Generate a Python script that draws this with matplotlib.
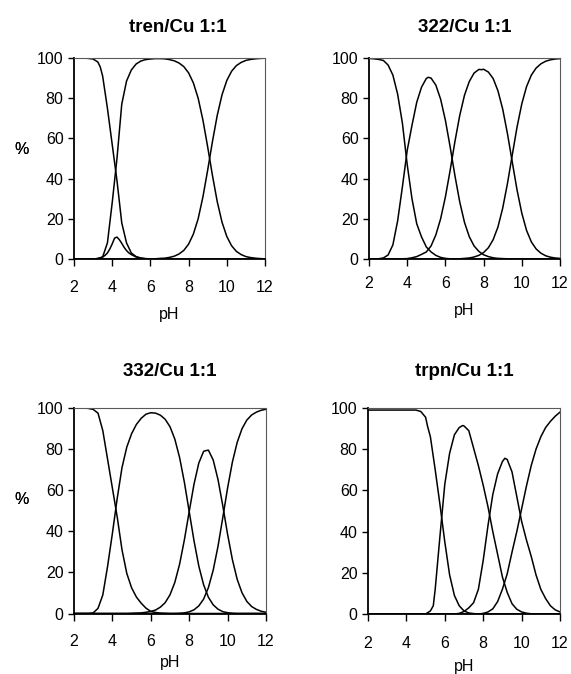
import matplotlib
matplotlib.use('agg')
import matplotlib.pyplot as plt

# species distribution curves (% of Cu)
ph = [2.0, 2.25, 2.5, 2.75, 3.0, 3.25, 3.5, 3.75, 4.0, 4.25, 4.5, 4.75, 5.0, 5.25,
      5.5, 5.75, 6.0, 6.25, 6.5, 6.75, 7.0, 7.25, 7.5, 7.75, 8.0, 8.25, 8.5, 8.75,
      9.0, 9.25, 9.5, 9.75, 10.0, 10.25, 10.5, 10.75, 11.0, 11.25, 11.5, 11.75, 12.0]

# tren/Cu 1:1
tren_a = [100, 100, 100, 99.8, 99.5, 98, 91, 75, 57, 39, 18, 8, 3, 1.2, 0.5, 0.2, 0.1,
          0, 0, 0, 0, 0, 0, 0, 0, 0, 0, 0, 0, 0, 0, 0, 0, 0, 0, 0, 0, 0, 0, 0, 0]
tren_b = [0, 0, 0, 0, 0, 0.2, 1, 8, 28, 50, 77, 88.5, 94, 97, 98.5, 99.2, 99.5, 99.7,
          99.7, 99.6, 99.2, 98.6, 97.5, 95.7, 92.6, 87.6, 80.0, 69.1, 55.7, 41.5, 28.5,
          18.3, 11.2, 6.6, 3.8, 2.2, 1.2, 0.7, 0.4, 0.2, 0.1]
tren_d = [0, 0, 0, 0, 0, 0, 0, 0, 0, 0, 0, 0, 0, 0, 0, 0, 0.1, 0.1, 0.3, 0.4, 0.8, 1.4,
          2.5, 4.3, 7.4, 12.4, 20.0, 30.9, 44.3, 58.5, 71.5, 81.7, 88.8, 93.4, 96.2,
          97.8, 98.8, 99.3, 99.6, 99.8, 99.9]
# small intermediate species, read on a finer grid
ph_bump = [3.0, 3.125, 3.25, 3.375, 3.5, 3.625, 3.75, 3.875, 4.0, 4.125, 4.25, 4.375,
           4.5, 4.625, 4.75, 4.875, 5.0, 5.25, 5.5, 5.75, 6.0]
tren_c = [0, 0.1, 0.3, 0.6, 1.0, 1.8, 3.0, 5.0, 7.5, 10.4, 10.9, 9.6, 7.8, 5.8, 4.2,
          3.0, 2.2, 1.0, 0.4, 0.1, 0]

# 322/Cu 1:1
p322_a = [99.8, 99.6, 99.3, 98.8, 96.5, 91.5, 82, 67.5, 47, 30, 17.5, 11, 6, 3.5, 1.8,
          0.8, 0.3, 0.1, 0, 0, 0, 0, 0, 0, 0, 0, 0, 0, 0, 0, 0, 0, 0, 0, 0, 0, 0, 0, 0,
          0, 0]
p322_b = [0, 0, 0.1, 0.5, 2, 7, 19, 36, 54, 66.5, 78, 85.5, 89.8, 90.0, 86.5, 79.5, 69,
          55.7, 41.4, 28.4, 18.2, 11.1, 6.5, 3.8, 2.1, 1.2, 0.6, 0.3, 0.2, 0.1,
          0, 0, 0, 0, 0, 0, 0, 0, 0, 0, 0]
p322_c = [0, 0, 0, 0, 0, 0, 0, 0.1, 0.2, 0.6, 1.2, 2.3, 3.5, 6.5, 12, 20, 30.9, 44.2,
          58.5, 71.4, 81.5, 88.3, 92.5, 94.3, 94.4, 93.0, 89.8, 83.7, 74.6, 62.3, 48.3,
          34.4, 22.8, 14.2, 8.5, 5.0, 2.9, 1.6, 0.9, 0.5, 0.3]
p322_d = [0, 0, 0, 0, 0, 0, 0, 0, 0, 0, 0, 0, 0, 0, 0, 0, 0, 0, 0.1, 0.1, 0.3, 0.5, 1.0,
          1.8, 3.2, 5.6, 9.6, 15.9, 25.3, 37.6, 51.7, 65.6, 77.2, 85.8, 91.5, 95.0,
          97.1, 98.4, 99.1, 99.5, 99.7]

# 332/Cu 1:1
p332_a = [100, 100, 100, 99.8, 99.3, 97.5, 89, 75, 61, 47, 31, 19.5, 12.5, 8, 5, 2.6,
          1.0, 0.5, 0.2, 0.1, 0, 0, 0, 0, 0, 0, 0, 0, 0, 0, 0, 0, 0, 0, 0, 0, 0, 0, 0,
          0, 0]
p332_b = [0, 0, 0, 0, 0.3, 2.5, 9, 23, 39, 56, 71, 81, 87.5, 92, 95, 97, 97.7, 97.5,
          96.5, 94.5, 90.9, 84.9, 75.9, 63.8, 49.6, 35.4, 23.1, 14.0, 7.9, 4.2, 2.1,
          0.9, 0.4, 0.1, 0, 0, 0, 0, 0, 0, 0]
p332_c = [0, 0, 0, 0, 0, 0, 0, 0, 0, 0, 0, 0, 0.1, 0.2, 0.3, 0.6, 1.0, 1.7, 3.1, 5.3,
          9.1, 15.1, 24.0, 35.9, 49.6, 62.9, 73.2, 78.9, 79.5, 74.7, 65.2, 52.4, 38.5,
          26.2, 16.6, 10.1, 5.9, 3.4, 2.0, 1.1, 0.6]
p332_d = [0, 0, 0, 0, 0, 0, 0, 0, 0, 0, 0, 0, 0, 0, 0, 0, 0, 0, 0, 0, 0, 0, 0.1, 0.3,
          0.8, 1.8, 3.7, 7.0, 12.6, 21.1, 32.7, 46.7, 61.1, 73.7, 83.3, 89.9, 94.1,
          96.6, 98.0, 98.9, 99.4]

# trpn/Cu 1:1
trpn_a = [99, 99, 99, 99, 99, 99, 99, 99, 99, 99, 99, 98.3, 95.5, 86, 70, 53, 35, 19,
          9, 4, 1.5, 0.5, 0.2, 0, 0, 0, 0, 0, 0, 0, 0, 0, 0, 0, 0, 0, 0, 0, 0, 0, 0]
trpn_b = [0, 0, 0, 0, 0, 0, 0, 0, 0, 0, 0, 0, 0, 1.5, 12, 38, 63, 78, 87, 90.5, 91.3,
          89, 80.5, 72, 62.5, 52, 40, 29, 18, 10.5, 5, 2.3, 1.0, 0.4, 0.1,
          0, 0, 0, 0, 0, 0]
trpn_c = [0, 0, 0, 0, 0, 0, 0, 0, 0, 0, 0, 0, 0, 0, 0, 0, 0, 0, 0, 0.3, 1.2, 3, 5.5,
          12, 26, 43, 58, 68, 74, 75, 69, 57, 45, 36, 28, 19, 12, 7.5, 4, 2, 1]
trpn_d = [0, 0, 0, 0, 0, 0, 0, 0, 0, 0, 0, 0, 0, 0, 0, 0, 0, 0, 0, 0, 0, 0, 0, 0, 0.3,
          1, 2.5, 6, 12, 19.5, 30, 40, 51, 62, 72, 80, 86, 90.5, 93.5, 96, 98]

# extra readings taken at peaks and knees (pH, %)
extra = {
    'tren_a': [(3.375, 95.5)],
    'p322_b': [(5.1, 90.4)],
    'p322_c': [(7.9, 94.2)],
    'p332_c': [(8.85, 79.2)],
    'trpn_a': [(5.1, 91.2)],
    'trpn_b': [(5.4, 4.0), (6.93, 91.5)],
    'trpn_c': [(9.13, 75.6)],
}

for arr in (tren_a, tren_b, tren_d, p322_a, p322_b, p322_c, p322_d,
            p332_a, p332_b, p332_c, p332_d, trpn_a, trpn_b, trpn_c, trpn_d):
    assert len(arr) == len(ph), len(arr)


def series(name, vals, xs=ph):
    pts = sorted(list(zip(xs, vals)) + extra.get(name, []))
    return [p[0] for p in pts], [p[1] for p in pts]


panels = [
    ('tren/Cu 1:1', [series('tren_a', tren_a), series('tren_b', tren_b),
                     series('tren_c', tren_c, ph_bump), series('tren_d', tren_d)]),
    ('322/Cu 1:1', [series('p322_a', p322_a), series('p322_b', p322_b),
                    series('p322_c', p322_c), series('p322_d', p322_d)]),
    ('332/Cu 1:1', [series('p332_a', p332_a), series('p332_b', p332_b),
                    series('p332_c', p332_c), series('p332_d', p332_d)]),
    ('trpn/Cu 1:1', [series('trpn_a', trpn_a), series('trpn_b', trpn_b),
                     series('trpn_c', trpn_c), series('trpn_d', trpn_d)]),
]

# axes boxes in pixels (left, top, right, bottom) on the 571x674 canvas
W, H = 571., 674.
boxes = [(74, 58, 265, 259), (369, 58, 560, 259),
         (74, 408, 266, 613.5), (368, 408, 560, 614)]
title_y = [28, 28, 372, 372]
xtick_pad = [10, 7, 10, 10.5]
xlab_y = [314, 311, 663, 666]

plt.rcParams['font.family'] = ['Liberation Sans', 'DejaVu Sans']
fig = plt.figure(figsize=(W / 100, H / 100), dpi=100)

for k, (title, curves) in enumerate(panels):
    l, t, r, b = boxes[k]
    ax = fig.add_axes([l / W, 1 - b / H, (r - l) / W, (b - t) / H])
    for xx, yy in curves:
        ax.plot(xx, yy, color='black', lw=1.1)
    ax.set_xlim(2, 12)
    ax.set_ylim(0, 100)
    ax.set_xticks([2, 4, 6, 8, 10, 12])
    ax.set_yticks([0, 20, 40, 60, 80, 100])
    ax.tick_params(axis='x', direction='out', length=5, width=1, pad=xtick_pad[k],
                   labelsize=11.5)
    ax.tick_params(axis='y', direction='out', length=4, width=1, pad=3.5,
                   labelsize=11.5)
    for s in ('left', 'bottom'):
        ax.spines[s].set_linewidth(1.3)
    for s in ('top', 'right'):
        ax.spines[s].set_linewidth(0.8)
        ax.spines[s].set_color('0.35')

    h = b - t
    ax.text(0.5 + (0.045 if k == 0 else 0), 1 + (t - title_y[k]) / h, title,
            transform=ax.transAxes, ha='center', va='center',
            fontsize=13.5, fontweight='bold')
    ax.set_ylabel('%', rotation=0, fontsize=11.5)
    ax.yaxis.set_label_coords((22 - l) / (r - l), (b - 150 - (t - 58)) / h)
    ax.set_xlabel('pH', fontsize=11.5)
    ax.xaxis.set_label_coords(0.5, -(xlab_y[k] - b) / h)
    ax.xaxis.label.set_va('center')
    ax.yaxis.label.set_va('center')

fig.savefig('out.png', dpi=100)
